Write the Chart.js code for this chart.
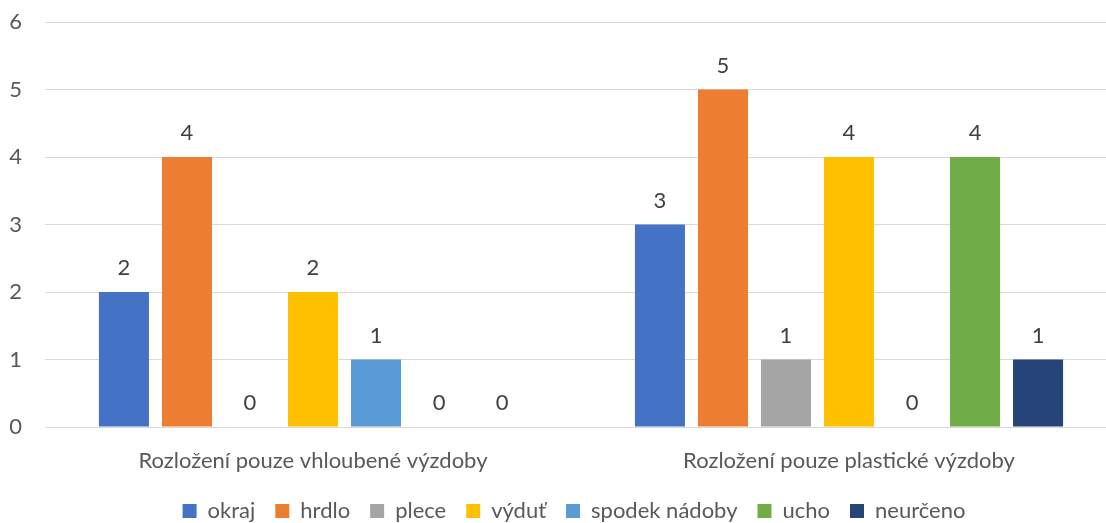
<!DOCTYPE html>
<html lang="cs">
<head>
<meta charset="utf-8">
<title>Rozložení výzdoby</title>
<script src="https://cdn.jsdelivr.net/npm/chart.js@4.4.1/dist/chart.umd.min.js"></script>
<style>
  html, body { margin: 0; padding: 0; background: #ffffff; overflow: hidden; }
  #wrap { position: absolute; left: 0; top: 0; width: 1106px; height: 523px; overflow: hidden; }
  canvas { display: block; }
</style>
</head>
<body>
<div id="wrap"><canvas id="chart" width="1148" height="532"></canvas></div>
<script>
// Categories (x axis)
const categories = ['Rozložení pouze vhloubené výzdoby', 'Rozložení pouze plastické výzdoby'];

// Series: one per vessel part
const okraj = [2, 3];
const hrdlo = [4, 5];
const plece = [0, 1];
const vydut = [2, 4];
const spodekNadoby = [1, 0];
const ucho = [0, 4];
const neurceno = [0, 1];

const seriesNames = ['okraj', 'hrdlo', 'plece', 'výduť', 'spodek nádoby', 'ucho', 'neurčeno'];
const seriesValues = [okraj, hrdlo, plece, vydut, spodekNadoby, ucho, neurceno];
const seriesColors = ['#4472C4', '#ED7D31', '#A5A5A5', '#FFC000', '#5B9BD5', '#70AD47', '#264478'];

// Y axis range
const yMin = 0;
const yMax = 6;
const yStep = 1;

const FONT = 'Lato, "Open Sans", sans-serif';
const TEXT = '#595959';

// Writes each bar's value just above it
const valueLabels = {
  id: 'valueLabels',
  afterDatasetsDraw(chart) {
    const ctx = chart.ctx;
    ctx.save();
    ctx.font = '22px ' + FONT;
    ctx.fillStyle = '#404040';
    ctx.textAlign = 'center';
    ctx.textBaseline = 'middle';
    chart.data.datasets.forEach((ds, di) => {
      const meta = chart.getDatasetMeta(di);
      meta.data.forEach((bar, i) => {
        ctx.fillText(String(ds.data[i]), bar.x, bar.y - 24);
      });
    });
    ctx.restore();
  }
};

// Centres the legend on the full canvas width rather than the padded area
const legendCentre = {
  id: 'legendCentre',
  afterLayout(chart) {
    if (chart.legend) {
      chart.legend.left = 0;
      chart.legend.right = chart.width;
      chart.legend.width = chart.width;
    }
  }
};

new Chart(document.getElementById('chart'), {
  type: 'bar',
  data: {
    labels: categories,
    datasets: seriesNames.map((name, i) => ({
      label: name,
      data: seriesValues[i],
      backgroundColor: seriesColors[i],
      borderWidth: 0,
      categoryPercentage: 0.823,
      barPercentage: 0.794
    }))
  },
  options: {
    responsive: false,
    animation: false,
    layout: { padding: { left: 0, right: 31, top: 22, bottom: 0 } },
    plugins: {
      tooltip: { enabled: false },
      legend: {
        position: 'bottom',
        labels: {
          boxWidth: 14,
          boxHeight: 14,
          padding: 20,
          color: TEXT,
          font: { family: FONT, size: 22 }
        }
      }
    },
    scales: {
      x: {
        grid: { display: false, drawTicks: false },
        border: { display: true, color: '#d9d9d9', width: 1 },
        ticks: { color: TEXT, padding: 21, font: { family: FONT, size: 22 } },
        afterFit(scale) { scale.height = 53; }
      },
      y: {
        min: yMin,
        max: yMax,
        grid: { color: '#d9d9d9', lineWidth: 1, drawTicks: false },
        border: { display: false },
        ticks: { stepSize: yStep, color: TEXT, padding: 23, font: { family: FONT, size: 22 } },
        afterFit(scale) {
          scale.width = 45;
          scale.paddingTop = 0;
          scale.paddingBottom = 0;
        }
      }
    }
  },
  plugins: [valueLabels, legendCentre]
});
</script>
</body>
</html>
